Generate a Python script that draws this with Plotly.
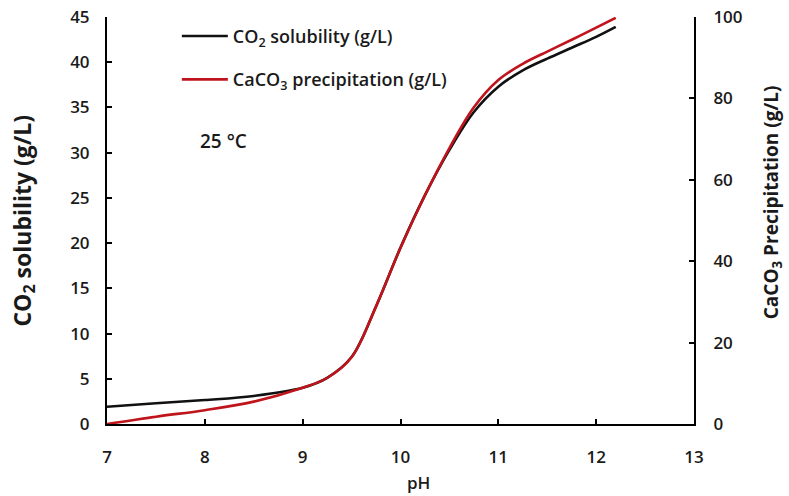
import plotly.graph_objects as go

ph = [7, 7.5, 8, 8.5, 9, 9.25, 9.5, 9.75, 10, 10.25, 10.5, 10.75, 11, 11.25, 11.5, 11.75, 12, 12.2]
co2_solubility = [1.9, 2.3, 2.65, 3.1, 4.0, 5.1, 7.4, 13.0, 19.5, 25.3, 30.3, 34.5, 37.3, 39.1, 40.4, 41.6, 42.8, 43.9]
caco3_precip = [0, 1.8, 3.4, 5.5, 8.9, 11.3, 16.4, 28.9, 43.3, 56.2, 67.8, 77.8, 84.5, 88.5, 91.5, 94.4, 97.4, 99.8]

x_ticks = [7, 8, 9, 10, 11, 12, 13]
y1_ticks = [0, 5, 10, 15, 20, 25, 30, 35, 40, 45]
y2_ticks = [0, 20, 40, 60, 80, 100]

FONT = "Open Sans"
TXT = "#1a1a1a"

fig = go.Figure()
fig.add_trace(go.Scatter(x=ph, y=co2_solubility, mode="lines", line=dict(color="#111111", width=2.6, shape="spline"),
                         name="CO<sub>2</sub> solubility (g/L)", yaxis="y", legendgroup="a"))
fig.add_trace(go.Scatter(x=ph, y=caco3_precip, mode="lines", line=dict(color="#c0141c", width=2.6, shape="spline"),
                         name="CaCO<sub>3</sub> precipitation (g/L)", yaxis="y2", legendgroup="b"))

tickfont = dict(family=FONT, size=17, color=TXT, weight=600)
axis_common = dict(showline=True, linecolor="black", linewidth=2, ticks="inside", ticklen=5, tickwidth=2,
                   tickcolor="black", showgrid=False, zeroline=False, automargin=False, tickfont=tickfont,
                   ticklabeloverflow="allow")

fig.update_layout(
    width=789, height=496,
    margin=dict(l=107, r=95, t=17, b=72),
    plot_bgcolor="white", paper_bgcolor="white",
    xaxis=dict(range=[7, 13], tickvals=x_ticks, **axis_common, ticklabelstandoff=17),
    yaxis=dict(range=[0, 45], tickvals=y1_ticks, **axis_common, ticklabelstandoff=12),
    yaxis2=dict(range=[0, 100], tickvals=y2_ticks, overlaying="y", side="right", anchor="x", **axis_common,
                ticklabelstandoff=14),
    legend=dict(x=0.119, y=0.998, xanchor="left", yanchor="top", bgcolor="rgba(0,0,0,0)",
                font=dict(family=FONT, size=18, color=TXT, weight=600), tracegroupgap=17, itemwidth=46),
    showlegend=True,
)

fig.add_annotation(x=-0.143, y=0.5, xref="paper", yref="paper", text="CO<sub>2</sub> solubility (g/L)",
                   textangle=-90, showarrow=False, xanchor="center", yanchor="middle",
                   font=dict(family=FONT, size=23, color=TXT, weight="bold"))
fig.add_annotation(x=1.133, y=0.545, xref="paper", yref="paper", text="CaCO<sub>3</sub> Precipitation (g/L)",
                   textangle=-90, showarrow=False, xanchor="center", yanchor="middle",
                   font=dict(family=FONT, size=19, color=TXT, weight="bold"))
fig.add_annotation(x=0.53, y=-0.176, xref="paper", yref="paper", text="pH", showarrow=False,
                   font=dict(family=FONT, size=17, color=TXT, weight=600), xanchor="center", yanchor="bottom")
fig.add_annotation(x=0.155, y=0.695, xref="paper", yref="paper", text="25 °C", showarrow=False,
                   font=dict(family=FONT, size=19, color=TXT, weight=600), xanchor="left", yanchor="middle")

fig.write_html("out.html", config={"displayModeBar": False},
               post_script="document.body.style.margin='0';")
